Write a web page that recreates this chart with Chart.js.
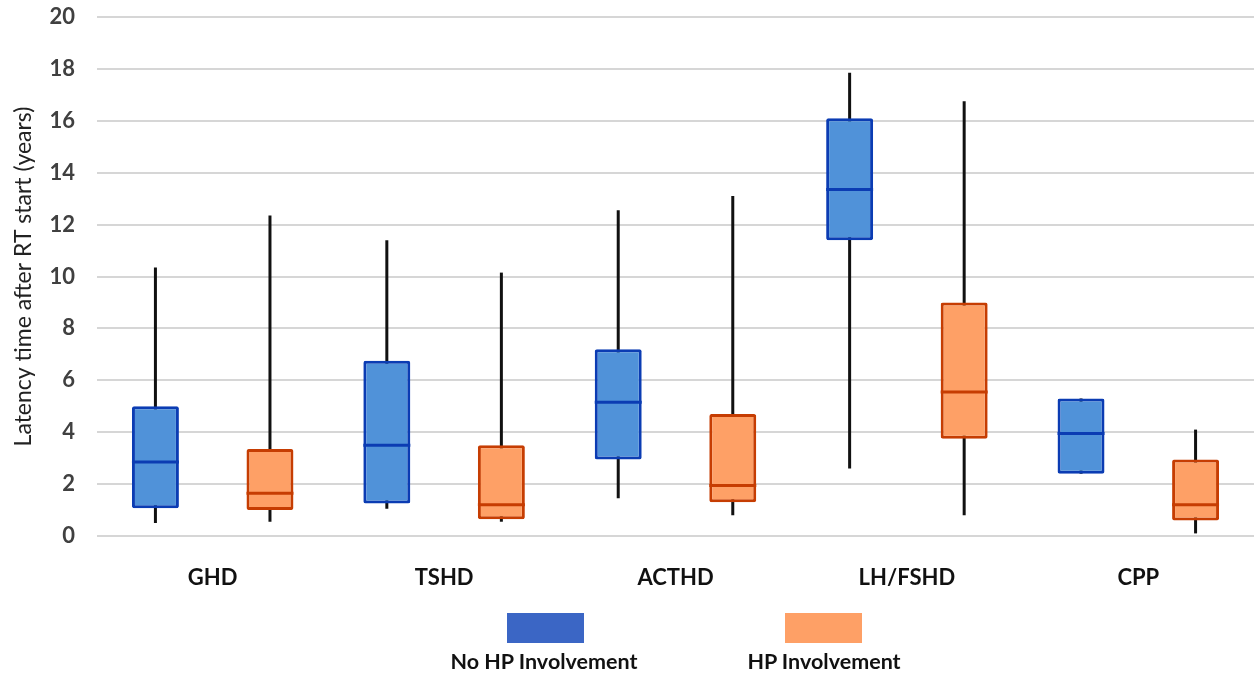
<!DOCTYPE html>
<html>
<head>
<meta charset="utf-8">
<script src="https://cdn.jsdelivr.net/npm/chart.js@4"></script>
<style>
  html, body { margin: 0; padding: 0; background: #fff; }
  #wrap { position: relative; width: 1254px; height: 677px; }
  .leg-box { position: absolute; top: 613px; width: 77px; height: 30px; }
  .leg-txt { position: absolute; top: 648px; width: 260px; text-align: center;
             font: bold 21.5px Lato, "Open Sans", sans-serif; color: #111; }
</style>
</head>
<body>
<div id="wrap">
  <canvas id="chart" width="1254" height="677"></canvas>
  <div class="leg-box" style="left:507px;background:#3b66c5"></div>
  <div class="leg-box" style="left:785px;background:#fea066"></div>
  <div class="leg-txt" style="left:414px">No HP Involvement</div>
  <div class="leg-txt" style="left:694px">HP Involvement</div>
</div>
<script>
// ── Datos ────────────────────────────────────────────────────────
const CATEGORIAS = ["GHD", "TSHD", "ACTHD", "LH/FSHD", "CPP"];

// Sin afectación HP
const noHpMin = [0.5, 1.05, 1.45, 2.6, 2.4];
const noHpQ1  = [1.07, 1.25, 2.95, 11.4, 2.4];
const noHpMed = [2.85, 3.5, 5.15, 13.35, 3.95];
const noHpQ3  = [5.0, 6.75, 7.2, 16.1, 5.3];
const noHpMax = [10.35, 11.4, 12.55, 17.85, 5.3];

// Con afectación HP
const hpMin = [0.55, 0.55, 0.8, 0.8, 0.1];
const hpQ1  = [1.0, 0.65, 1.3, 3.75, 0.6];
const hpMed = [1.65, 1.2, 1.95, 5.55, 1.2];
const hpQ3  = [3.35, 3.5, 4.7, 9.0, 2.95];
const hpMax = [12.35, 10.15, 13.1, 16.75, 4.1];

const Y_TICKS = [0, 2, 4, 6, 8, 10, 12, 14, 16, 18, 20];

// ── Plugin bigotes + medianas ────────────────────────────────────
const boxPlugin = {
  id: "boxPlugin",
  beforeDatasetsDraw(chart) {
    const ctx = chart.ctx;
    const y = chart.scales.y;
    ctx.save();
    ctx.strokeStyle = "#111";
    ctx.lineWidth = 3;
    chart.data.datasets.forEach((ds, di) => {
      const meta = chart.getDatasetMeta(di);
      meta.data.forEach((bar, i) => {
        if (ds.whMax[i] === ds.whMin[i]) return;
        ctx.beginPath();
        ctx.moveTo(bar.x, y.getPixelForValue(ds.whMin[i]));
        ctx.lineTo(bar.x, y.getPixelForValue(ds.whMax[i]));
        ctx.stroke();
      });
    });
    ctx.restore();
  },
  afterDatasetsDraw(chart) {
    const ctx = chart.ctx;
    const y = chart.scales.y;
    ctx.save();
    ctx.lineWidth = 3;
    chart.data.datasets.forEach((ds, di) => {
      const meta = chart.getDatasetMeta(di);
      ctx.strokeStyle = ds.borderColor;
      meta.data.forEach((bar, i) => {
        const py = y.getPixelForValue(ds.med[i]);
        const half = bar.width / 2;
        ctx.beginPath();
        ctx.moveTo(bar.x - half, py);
        ctx.lineTo(bar.x + half, py);
        ctx.stroke();
      });
    });
    ctx.restore();
  }
};

const FONT = "Lato, 'Open Sans', sans-serif";

new Chart(document.getElementById("chart"), {
  type: "bar",
  data: {
    labels: CATEGORIAS,
    datasets: [
      {
        label: "No HP Involvement",
        data: noHpQ1.map((q, i) => [q, noHpQ3[i]]),
        med: noHpMed, whMin: noHpMin, whMax: noHpMax,
        backgroundColor: "#5092d9",
        borderColor: "#0b3cb3",
        borderWidth: 3,
        borderRadius: 2,
        borderSkipped: false,
      },
      {
        label: "HP Involvement",
        data: hpQ1.map((q, i) => [q, hpQ3[i]]),
        med: hpMed, whMin: hpMin, whMax: hpMax,
        backgroundColor: "#fea066",
        borderColor: "#c63d02",
        borderWidth: 3,
        borderRadius: 2,
        borderSkipped: false,
      }
    ]
  },
  options: {
    responsive: false,
    animation: false,
    categoryPercentage: 0.99,
    barPercentage: 0.41,
    layout: { autoPadding: false, padding: { top: 17, right: 0, left: 0, bottom: 0 } },
    plugins: { legend: { display: false }, tooltip: { enabled: false } },
    scales: {
      x: {
        grid: { display: false, drawTicks: false },
        border: { display: false },
        ticks: { color: "#111", font: { family: FONT, size: 22, weight: "bold" }, padding: 29 },
        afterFit: s => { s.height = 141; s.paddingLeft = 0; s.paddingRight = 0; }
      },
      y: {
        min: 0, max: 20,
        afterBuildTicks: s => { s.ticks = Y_TICKS.map(v => ({ value: v })); },
        grid: { color: "#d6d6d6", lineWidth: 2, drawTicks: false },
        border: { display: false },
        ticks: { color: "#404040", font: { family: FONT, size: 22, weight: "bold" }, padding: 22 },
        title: {
          display: true, text: "Latency time after RT start (years)",
          color: "#222", font: { family: FONT, size: 23 }, padding: { top: 10, bottom: 0 }
        },
        afterFit: s => { s.width = 97; s.paddingTop = 0; s.paddingBottom = 0; }
      }
    }
  },
  plugins: [boxPlugin]
});
</script>
</body>
</html>
